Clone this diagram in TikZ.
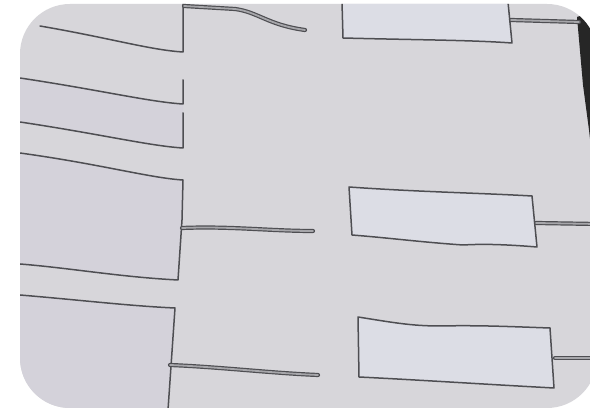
\documentclass[tikz,border=0pt]{standalone}
\definecolor{cloth}{HTML}{D7D6DA}
\definecolor{tint}{HTML}{D4D2DA}
\definecolor{boxin}{HTML}{DCDDE5}
\definecolor{ink}{HTML}{4E4E52}
\definecolor{gap}{HTML}{A6A6AA}
\begin{document}
\begin{tikzpicture}[x=1pt,y=-1pt,line join=round,line cap=round,
  rule/.style={draw=ink,line width=1.5pt},
  dbl/.style={draw=ink,line width=1.2pt,double=gap,double distance=1.8pt}]
\useasboundingbox (0,0) rectangle (590,411);
\fill[white] (0,0) rectangle (590,411);
\path[fill=cloth,rounded corners=50pt] (20,4) rectangle (597,408);
\begin{scope}
\clip[rounded corners=50pt] (20,4) rectangle (597,408);
% left tinted panels
\fill[tint] (20,153) .. controls (100,164) and (150,178) .. (183,180) -- (182,220) -- (178,280) .. controls (120,277) and (70,268) .. (20,264) -- cycle;
\fill[tint] (20,295) .. controls (80,300) and (130,306) .. (175,308) -- (168,410) -- (20,410) -- cycle;
\fill[tint] (20,78) .. controls (100,90) and (150,102) .. (183,104) -- (183,113) -- (183,148) .. controls (150,146) and (100,134) .. (20,122) -- cycle;
% dark corner
\fill[black!85] (577,17) -- (597,10) -- (597,200) -- (589,130) -- (583,85) -- cycle;
% boxes
\path[fill=boxin] (342,2) -- (343,38) .. controls (420,40) and (470,40) .. (512,43) -- (508,2) -- cycle;
\draw[rule] (342,2) -- (343,38) .. controls (420,40) and (470,40) .. (512,43) -- (508,2);
\path[fill=boxin,rule] (349,187) .. controls (420,192) and (480,193) .. (532,196) -- (537,247) .. controls (500,244) and (480,244) .. (463,245) .. controls (420,242) and (390,238) .. (352,235) -- cycle;
\path[fill=boxin,rule] (358,317) .. controls (390,322) and (410,326) .. (440,326) .. controls (480,325) and (520,327) .. (550,328) -- (554,388) .. controls (480,384) and (420,380) .. (359,377) -- cycle;
% left brackets
\draw[rule] (40,26) .. controls (110,38) and (150,50) .. (183,52) -- (183,2);
\draw[rule] (20,78) .. controls (100,90) and (150,102) .. (183,104) -- (183,80);
\draw[rule] (20,122) .. controls (100,134) and (150,146) .. (183,148) -- (183,113);
\draw[rule] (20,153) .. controls (100,164) and (150,178) .. (183,180) -- (182,220) -- (178,280) .. controls (120,277) and (70,268) .. (20,264);
\draw[rule] (20,295) .. controls (80,300) and (130,306) .. (175,308) -- (168,410);
% connectors
\draw[dbl] (184,6) -- (235,9) .. controls (258,12) and (268,25) .. (305,30);
\draw[dbl] (182,228) .. controls (230,226) and (270,231) .. (313,231);
\draw[dbl] (170,365) .. controls (220,367) and (270,373) .. (318,375);
\draw[dbl] (511,20) -- (579,22);
\draw[dbl] (536,223) -- (597,224);
\draw[dbl] (555,358) -- (597,358);
\end{scope}
\end{tikzpicture}
\end{document}
